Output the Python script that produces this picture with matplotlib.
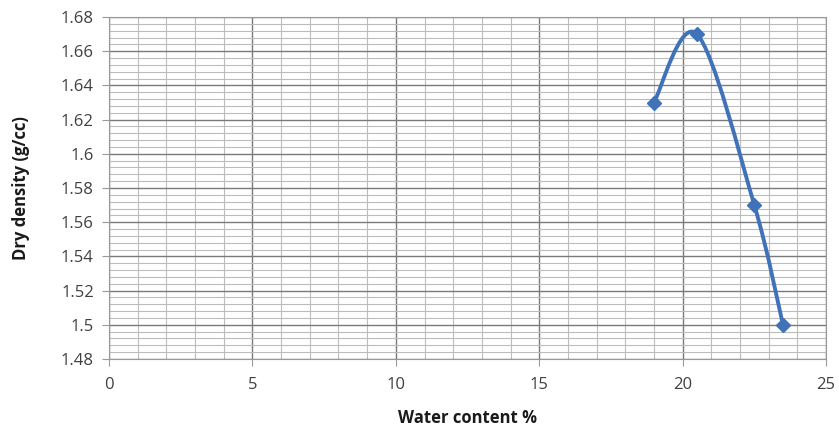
import numpy as np
import matplotlib
matplotlib.use("Agg")
import matplotlib.pyplot as plt
from matplotlib.path import Path
from matplotlib.patches import PathPatch
from matplotlib.ticker import MultipleLocator

water = [19, 20.5, 22.5, 23.5]
density = [1.63, 1.67, 1.57, 1.50]
xticks = [0, 5, 10, 15, 20, 25]
yticks = [1.48, 1.50, 1.52, 1.54, 1.56, 1.58, 1.60, 1.62, 1.64, 1.66, 1.68]
ytick_labels = ["1.48", "1.5", "1.52", "1.54", "1.56", "1.58", "1.6", "1.62", "1.64", "1.66", "1.68"]

color = "#3F72B8"

fig = plt.figure(figsize=(8.39, 4.32), dpi=100)
ax = fig.add_axes([0.130, 0.169, 0.8545, 0.7916])
ax.set_xlim(0, 25)
ax.set_ylim(1.48, 1.68)

ax.xaxis.set_major_locator(MultipleLocator(5))
ax.xaxis.set_minor_locator(MultipleLocator(1))
ax.yaxis.set_major_locator(MultipleLocator(0.02))
ax.yaxis.set_minor_locator(MultipleLocator(0.004))
ax.set_xticks(xticks)
ax.set_yticks(yticks)
ax.set_yticklabels(ytick_labels)
ax.grid(which="major", color="#7a7a7a", linewidth=1.0)
ax.grid(which="minor", color="#bcbcbc", linewidth=0.8)
ax.set_axisbelow(True)
for s in ax.spines.values():
    s.set_color("#9a9a9a")
ax.tick_params(which="major", length=5, color="#9a9a9a", labelsize=12, labelcolor="#404040", direction="out")
ax.tick_params(which="minor", length=0)
ax.tick_params(axis="x", pad=8)
ax.tick_params(axis="y", pad=6)

# Excel-style smoothed curve through the data (cubic Bezier segments)
pts = np.column_stack([water, density]).astype(float)
sx, sy = 25.0, 0.2
p = pts / [sx, sy]
verts = [tuple(p[0])]
codes = [Path.MOVETO]
n = len(p)
for i in range(n - 1):
    p0 = p[i - 1] if i > 0 else p[i]
    p1 = p[i]
    p2 = p[i + 1]
    p3 = p[i + 2] if i + 2 < n else p[i + 1]
    c1 = p1 + (p2 - p0) / 6.0
    c2 = p2 - (p3 - p1) / 6.0
    verts += [tuple(c1), tuple(c2), tuple(p2)]
    codes += [Path.CURVE4] * 3
verts = np.array(verts) * [sx, sy]
path = Path(verts, codes)
ax.add_patch(PathPatch(path, facecolor="none", edgecolor=color, linewidth=2.8, zorder=3))
ax.plot(water, density, linestyle="none", marker="D", markersize=7, color=color, zorder=4)

lab_font = dict(fontfamily="Open Sans", fontweight="bold", fontsize=12, color="#1a1a1a")
ax.set_xlabel("Water content %", **lab_font)
ax.set_ylabel("Dry density (g/cc)", **lab_font)
ax.xaxis.set_label_coords(0.5, -0.145)
ax.yaxis.set_label_coords(-0.11, 0.5)
for t in ax.get_xticklabels() + ax.get_yticklabels():
    t.set_fontfamily("Open Sans")

fig.savefig("out.png", dpi=100, facecolor="white")
